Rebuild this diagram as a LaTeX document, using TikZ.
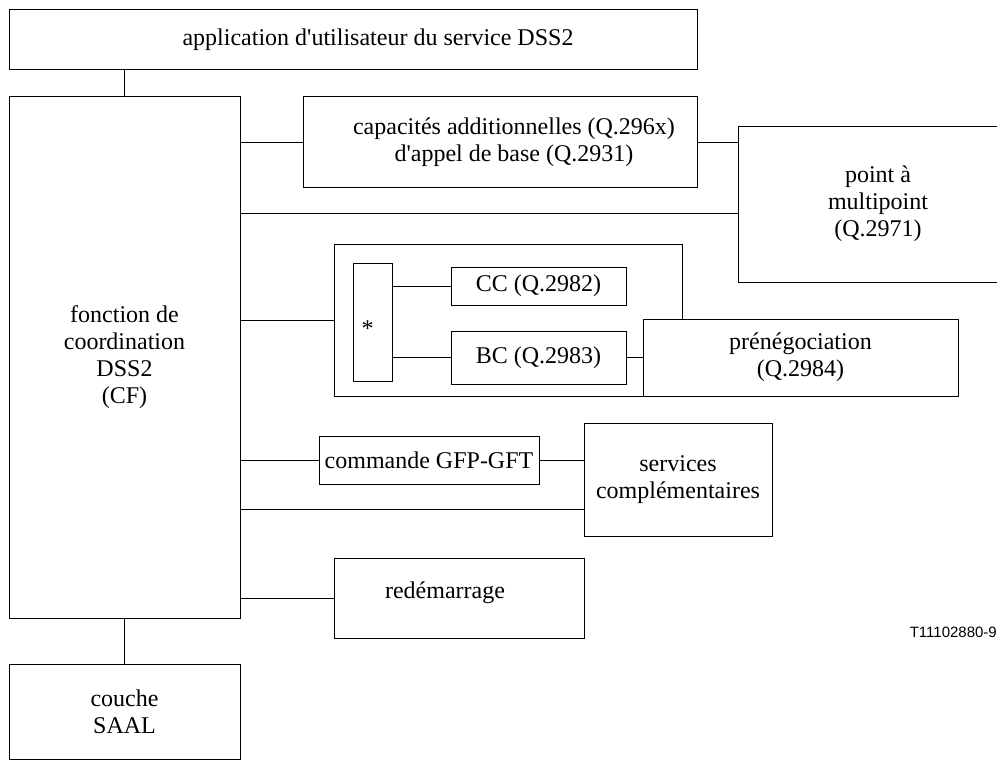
\documentclass[tikz,border=0pt]{standalone}
\usepackage{fontspec}
\setmainfont{Liberation Serif}
\newfontfamily\tagfont{Liberation Sans}
\usetikzlibrary{positioning}

\begin{document}
\begin{tikzpicture}[x=1pt, y=-1pt,
		box/.style={draw, line width=1pt, fill=white, inner sep=0pt, align=center,
			font=\fontsize{24}{27}\selectfont},
		inside/.style={font=\fontsize{24}{27}\selectfont, align=center, inner sep=0pt},
		link/.style={line width=1pt}]
			%%%%% START %%%%%
			
			\clip (0, 0) rectangle (997, 760);
			
			% left column
			\node[box, minimum width=688, minimum height=60] (app) at (353, 40)
				{\hspace*{50pt}application d\textquotesingle utilisateur du service DSS2};
			\node[box, minimum width=231, minimum height=521] (cf) at (124.5, 357.5)
				{fonction de\\coordination\\DSS2\\(CF)};
			\node[box, minimum width=231, minimum height=95] (saal) at (124.5, 711.5)
				{couche\\SAAL};
			
			% upper right
			\node[box, minimum width=394, minimum height=90] (cap) at (500, 142)
				{\hspace*{28pt}capacités additionnelles (Q.296x)\\\hspace*{28pt}d\textquotesingle appel de base (Q.2931)};
			\node[box, minimum width=280, minimum height=156] (pt) at (878, 204)
				{point à\\multipoint\\(Q.2971)};
			
			% call control group
			\node[box, minimum width=348, minimum height=152] (grp) at (508, 320) {};
			\node[box, minimum width=39, minimum height=118,
				label={[inside, xshift=-5pt, yshift=-7pt]center:*}] (star) at (372.5, 322) {};
			\node[box, minimum width=175, minimum height=38] (cc) at (538.5, 286) {CC (Q.2982)};
			\node[box, minimum width=175, minimum height=53] (bc) at (538.5, 357.5) {BC (Q.2983)};
			\node[box, minimum width=315, minimum height=77] (pren) at (800.5, 357.5)
				{prénégociation\\(Q.2984)};
			
			% lower right
			\node[box, minimum width=220, minimum height=48] (cmd) at (429, 460) {commande GFP-GFT};
			\node[box, minimum width=188, minimum height=113] (svc) at (678, 479.5)
				{services\\complémentaires};
			\node[box, minimum width=250, minimum height=80,
				label={[inside, xshift=-14pt, yshift=5pt]center:redémarrage}] (rst) at (459, 598) {};
			
			\node[anchor=east, inner sep=0pt, font=\tagfont\fontsize{15}{17}\selectfont] (tag)
				at (997, 632) {T11102880-9};
			
			\coordinate (ptlink) at (0, 213);
			\coordinate (svclink) at (0, 509);
			
			% connectors
			\draw[link] (cf.north) -- (cf.north |- app.south);
			\draw[link] (cf.south) -- (saal.north);
			\draw[link] (cf.east |- cap.west) -- (cap.west);
			\draw[link] (cap.east) -- (pt.west |- cap.east);
			\draw[link] (cf.east |- ptlink) -- (pt.west |- ptlink);
			\draw[link] (cf.east |- grp.west) -- (grp.west);
			\draw[link] (star.east |- cc.west) -- (cc.west);
			\draw[link] (star.east |- bc.west) -- (bc.west);
			\draw[link] (bc.east) -- (pren.west |- bc.east);
			\draw[link] (cf.east |- cmd.west) -- (cmd.west);
			\draw[link] (cmd.east) -- (svc.west |- cmd.east);
			\draw[link] (cf.east |- svclink) -- (svc.west |- svclink);
			\draw[link] (cf.east |- rst.west) -- (rst.west);
			
			%%%%% END %%%%%
\end{tikzpicture}
\end{document}
